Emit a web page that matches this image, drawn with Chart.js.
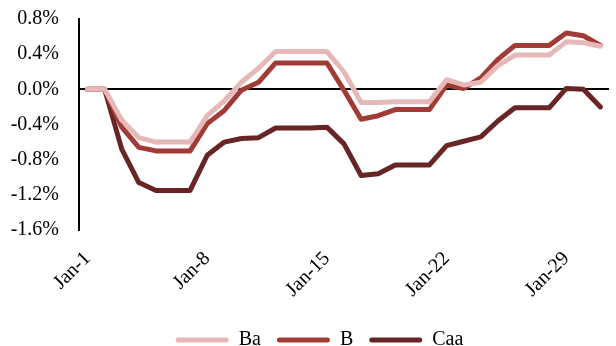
<!DOCTYPE html>
<html>
<head>
<meta charset="utf-8">
<script src="https://cdn.jsdelivr.net/npm/chart.js@4/dist/chart.umd.min.js"></script>
<style>
  html, body { margin: 0; padding: 0; background: #fff; }
  #wrap { width: 616px; height: 346px; }
</style>
</head>
<body>
<div id="wrap"><canvas id="c" width="616" height="346"></canvas></div>
<script>
// Daily categories for January
const days = ['Jan-1','Jan-2','Jan-3','Jan-4','Jan-5','Jan-6','Jan-7','Jan-8','Jan-9','Jan-10',
  'Jan-11','Jan-12','Jan-13','Jan-14','Jan-15','Jan-16','Jan-17','Jan-18','Jan-19','Jan-20',
  'Jan-21','Jan-22','Jan-23','Jan-24','Jan-25','Jan-26','Jan-27','Jan-28','Jan-29','Jan-30','Jan-31'];

// Cumulative change (%) by rating bucket
const ba = [0, 0, -0.35, -0.55, -0.60, -0.60, -0.60, -0.30, -0.13, 0.08, 0.24, 0.43, 0.43, 0.43, 0.43,
  0.20, -0.15, -0.15, -0.14, -0.14, -0.14, 0.11, 0.05, 0.08, 0.27, 0.39, 0.39, 0.39, 0.54, 0.53, 0.49];
const b = [0, 0, -0.43, -0.66, -0.70, -0.70, -0.70, -0.39, -0.24, -0.01, 0.08, 0.30, 0.30, 0.30, 0.30,
  -0.01, -0.34, -0.30, -0.23, -0.23, -0.23, 0.05, 0.01, 0.13, 0.34, 0.50, 0.50, 0.50, 0.64, 0.61, 0.50];
const caa = [0, 0, -0.68, -1.06, -1.15, -1.15, -1.15, -0.75, -0.60, -0.56, -0.55, -0.44, -0.44, -0.44, -0.43,
  -0.62, -0.98, -0.96, -0.86, -0.86, -0.86, -0.64, -0.59, -0.54, -0.36, -0.21, -0.21, -0.21, 0.01, 0.00, -0.20];

// Y-axis ticks
const yTicks = [0.8, 0.4, 0.0, -0.4, -0.8, -1.2, -1.6];

const FONT = 'Liberation Serif';

function series(label, data, color) {
  return {
    label, data,
    borderColor: color, backgroundColor: color,
    borderWidth: 5, pointRadius: 0, tension: 0,
    borderCapStyle: 'round', borderJoinStyle: 'round'
  };
}

// Move the legend row slightly right and down from its default slot
const legendShift = {
  id: 'legendShift',
  afterLayout(chart) {
    const lg = chart.legend;
    if (!lg) return;
    lg.left += 15; lg.right += 15;
    lg.top += 16; lg.bottom += 16;
  }
};

new Chart(document.getElementById('c'), {
  type: 'line',
  data: {
    labels: days,
    datasets: [
      series('Ba', ba, '#E6B9B8'),
      series('B', b, '#A23A36'),
      series('Caa', caa, '#682526')
    ]
  },
  plugins: [legendShift],
  options: {
    responsive: false,
    animation: false,
    layout: { padding: { top: 19, right: 7, left: 0, bottom: 2 } },
    plugins: {
      tooltip: { enabled: false },
      legend: {
        position: 'bottom',
        labels: {
          font: { family: FONT, size: 20 },
          color: '#000',
          boxWidth: 53,
          boxHeight: 5,
          padding: 16,
          useBorderRadius: true,
          borderRadius: 2.5,
          generateLabels(chart) {
            const items = Chart.defaults.plugins.legend.labels.generateLabels(chart);
            items.forEach(it => { it.lineWidth = 0; it.fillStyle = it.strokeStyle; });
            return items;
          }
        }
      }
    },
    scales: {
      x: {
        offset: true,
        grid: { display: false },
        border: { display: false },
        afterFit(s) {
          s.height = 68;
          s.paddingLeft = 0;
          s.paddingRight = 0;
          s._computeLabelArea = () => undefined;
        },
        ticks: {
          autoSkip: false,
          maxRotation: 45,
          minRotation: 45,
          padding: 9,
          color: '#000',
          font: { family: FONT, size: 20 },
          callback: (v, i) => (i % 7 === 0 ? days[i] : '')
        }
      },
      y: {
        min: -1.6,
        max: 0.8,
        afterBuildTicks(s) { s.ticks = yTicks.map(v => ({ value: v })); },
        afterFit(s) { s.width = 79; s.paddingTop = 0; s.paddingBottom = 0; },
        border: { display: true, color: '#000', width: 2 },
        grid: {
          drawTicks: false,
          lineWidth: 2,
          color: ctx => (ctx.tick && Math.abs(ctx.tick.value) < 1e-9 ? '#000' : 'rgba(0,0,0,0)')
        },
        ticks: {
          padding: 20,
          color: '#000',
          font: { family: FONT, size: 20 },
          callback: v => v.toFixed(1) + '%'
        }
      }
    }
  }
});
</script>
</body>
</html>
